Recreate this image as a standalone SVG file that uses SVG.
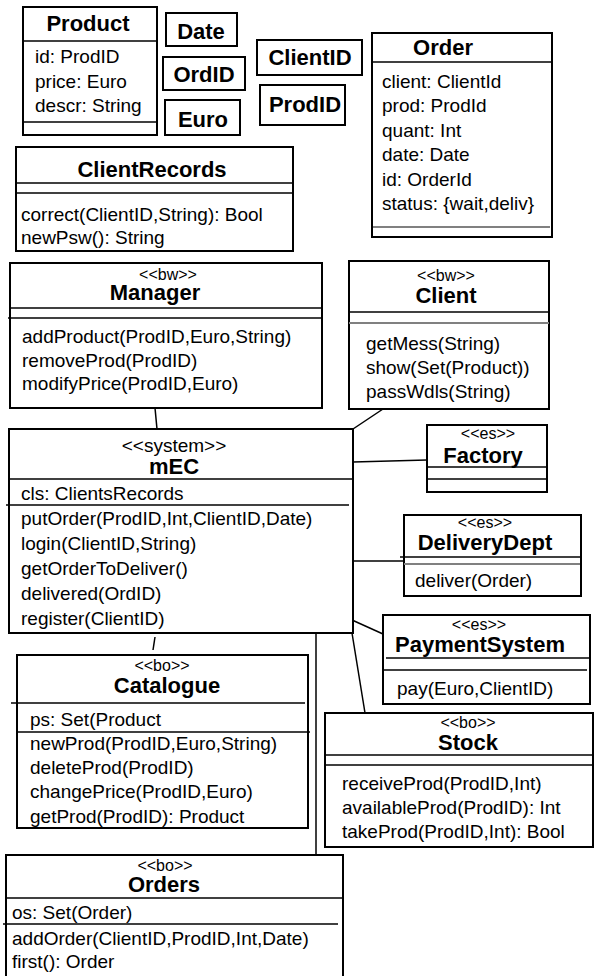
<svg xmlns="http://www.w3.org/2000/svg" width="594" height="976" viewBox="0 0 594 976">
<style>
.b{fill:#fff;stroke:#000;stroke-width:2}
.l{stroke:#000;stroke-width:1.5;fill:none}
.g{stroke:#808080;stroke-width:2;fill:none}
.c{stroke:#000;stroke-width:1.5;fill:none}
text{font-family:"Liberation Sans",Arial,Helvetica,sans-serif;fill:#000}
.t{font-size:22px;font-weight:bold;text-anchor:middle}
.a{font-size:19px}
.s{font-size:16px;text-anchor:middle}
.sy{font-size:19px;text-anchor:middle}
</style>
<rect width="594" height="976" fill="#fff"/>
<g id="connectors">
<line class="c" x1="155" y1="408" x2="157" y2="429"/>
<line class="c" x1="383" y1="409" x2="353" y2="429"/>
<line class="c" x1="353" y1="462" x2="427" y2="460"/>
<line class="c" x1="353" y1="561" x2="404" y2="561"/>
<line class="c" x1="352" y1="620" x2="383" y2="634"/>
<line class="c" x1="352" y1="633" x2="365" y2="713"/>
<line class="c" x1="316" y1="633" x2="316" y2="855"/>
<line class="c" x1="155" y1="637" x2="153" y2="650"/>
</g>
<g id="Product">
<rect class="b" x="23" y="7" width="134" height="128"/>
<text class="t" x="88" y="31">Product</text>
<line class="l" x1="23" y1="41" x2="157" y2="41"/>
<text class="a" x="35" y="63">id: ProdID</text>
<text class="a" x="35" y="88">price: Euro</text>
<text class="a" x="35" y="112">descr: String</text>
<line class="l" x1="23" y1="122" x2="157" y2="122"/>
</g>
<g id="Date">
<rect class="b" x="166" y="13" width="71" height="33"/>
<text class="t" x="201" y="39">Date</text>
</g>
<g id="OrdID">
<rect class="b" x="163" y="57" width="82" height="33"/>
<text class="t" x="204" y="82">OrdID</text>
</g>
<g id="Euro">
<rect class="b" x="165" y="100" width="75" height="35"/>
<text class="t" x="203" y="127">Euro</text>
</g>
<g id="ClientID">
<rect class="b" x="257" y="40" width="105" height="35"/>
<text class="t" x="310" y="65">ClientID</text>
</g>
<g id="ProdID">
<rect class="b" x="260" y="85" width="85" height="40"/>
<text class="t" x="305" y="112">ProdID</text>
</g>
<g id="Order">
<rect class="b" x="372" y="33" width="180" height="204"/>
<text class="t" x="443" y="55">Order</text>
<line class="l" x1="372" y1="62" x2="552" y2="62"/>
<text class="a" x="382" y="88">client: ClientId</text>
<text class="a" x="382" y="112">prod: ProdId</text>
<text class="a" x="382" y="137">quant: Int</text>
<text class="a" x="382" y="161">date: Date</text>
<text class="a" x="382" y="186">id: OrderId</text>
<text class="a" x="382" y="210">status: {wait,deliv}</text>
<line class="g" x1="373" y1="227" x2="550" y2="227"/>
</g>
<g id="ClientRecords">
<rect class="b" x="16" y="147" width="277" height="104"/>
<text class="t" x="152" y="177">ClientRecords</text>
<line class="l" x1="16" y1="183" x2="293" y2="183"/>
<line class="l" x1="16" y1="193" x2="293" y2="193"/>
<text class="a" x="21" y="221">correct(ClientID,String): Bool</text>
<text class="a" x="21" y="244">newPsw(): String</text>
</g>
<g id="Manager">
<rect class="b" x="10" y="263" width="312" height="145"/>
<text class="s" x="168" y="280">&lt;&lt;bw&gt;&gt;</text>
<text class="t" x="155" y="300">Manager</text>
<line class="l" x1="10" y1="308" x2="322" y2="308"/>
<line class="l" x1="8" y1="318" x2="322" y2="318"/>
<text class="a" x="22" y="343">addProduct(ProdID,Euro,String)</text>
<text class="a" x="22" y="367">removeProd(ProdID)</text>
<text class="a" x="22" y="390">modifyPrice(ProdID,Euro)</text>
</g>
<g id="Client">
<rect class="b" x="349" y="261" width="200" height="148"/>
<text class="s" x="446" y="281">&lt;&lt;bw&gt;&gt;</text>
<text class="t" x="446" y="303">Client</text>
<line class="l" x1="349" y1="312" x2="549" y2="312"/>
<line class="g" x1="349" y1="323" x2="549" y2="323"/>
<text class="a" x="366" y="350">getMess(String)</text>
<text class="a" x="366" y="374">show(Set(Product))</text>
<text class="a" x="366" y="398">passWdls(String)</text>
</g>
<g id="mEC">
<rect class="b" x="9" y="429" width="344" height="204"/>
<text class="sy" x="174" y="452">&lt;&lt;system&gt;&gt;</text>
<text class="t" x="174" y="474">mEC</text>
<line class="l" x1="9" y1="479" x2="353" y2="479"/>
<text class="a" x="21" y="500">cls: ClientsRecords</text>
<line class="l" x1="6" y1="505" x2="349" y2="505"/>
<text class="a" x="21" y="525">putOrder(ProdID,Int,ClientID,Date)</text>
<text class="a" x="21" y="550">login(ClientID,String)</text>
<text class="a" x="21" y="575">getOrderToDeliver()</text>
<text class="a" x="21" y="600">delivered(OrdID)</text>
<text class="a" x="21" y="625">register(ClientID)</text>
</g>
<g id="Factory">
<rect class="b" x="427" y="425" width="120" height="67"/>
<text class="s" x="488" y="439">&lt;&lt;es&gt;&gt;</text>
<text class="t" x="483" y="463">Factory</text>
<line class="l" x1="427" y1="467" x2="547" y2="467"/>
<line class="l" x1="427" y1="479" x2="547" y2="479"/>
</g>
<g id="DeliveryDept">
<rect class="b" x="404" y="515" width="177" height="81"/>
<text class="s" x="485" y="528">&lt;&lt;es&gt;&gt;</text>
<text class="t" x="485" y="550">DeliveryDept</text>
<line class="l" x1="400" y1="557" x2="581" y2="557"/>
<line class="g" x1="404" y1="564" x2="580" y2="564"/>
<text class="a" x="415" y="587">deliver(Order)</text>
</g>
<g id="PaymentSystem">
<rect class="b" x="383" y="615" width="207" height="89"/>
<text class="s" x="479" y="630">&lt;&lt;es&gt;&gt;</text>
<text class="t" x="480" y="652">PaymentSystem</text>
<line class="l" x1="386" y1="658" x2="590" y2="658"/>
<line class="l" x1="383" y1="670" x2="587" y2="670"/>
<text class="a" x="397" y="695">pay(Euro,ClientID)</text>
</g>
<g id="Stock">
<rect class="b" x="325" y="713" width="268" height="134"/>
<text class="s" x="468" y="728">&lt;&lt;bo&gt;&gt;</text>
<text class="t" x="468" y="750">Stock</text>
<line class="l" x1="325" y1="755" x2="593" y2="755"/>
<line class="l" x1="325" y1="765" x2="593" y2="765"/>
<text class="a" x="342" y="790">receiveProd(ProdID,Int)</text>
<text class="a" x="342" y="814">availableProd(ProdID): Int</text>
<text class="a" x="342" y="838">takeProd(ProdID,Int): Bool</text>
</g>
<g id="Catalogue">
<rect class="b" x="17" y="655" width="291" height="173"/>
<text class="s" x="162" y="671">&lt;&lt;bo&gt;&gt;</text>
<text class="t" x="167" y="693">Catalogue</text>
<line class="l" x1="11" y1="703" x2="305" y2="703"/>
<text class="a" x="30" y="726">ps: Set(Product</text>
<line class="l" x1="17" y1="732" x2="310" y2="732"/>
<text class="a" x="30" y="750">newProd(ProdID,Euro,String)</text>
<text class="a" x="30" y="774">deleteProd(ProdID)</text>
<text class="a" x="30" y="798">changePrice(ProdID,Euro)</text>
<text class="a" x="30" y="823">getProd(ProdID): Product</text>
</g>
<g id="Orders">
<rect class="b" x="6" y="855" width="337" height="135"/>
<text class="s" x="165" y="871">&lt;&lt;bo&gt;&gt;</text>
<text class="t" x="164" y="892">Orders</text>
<line class="l" x1="6" y1="898" x2="343" y2="898"/>
<text class="a" x="12" y="919">os: Set(Order)</text>
<line class="l" x1="3" y1="924" x2="338" y2="924"/>
<text class="a" x="12" y="945">addOrder(ClientID,ProdID,Int,Date)</text>
<text class="a" x="12" y="968">first(): Order</text>
</g>
</svg>
